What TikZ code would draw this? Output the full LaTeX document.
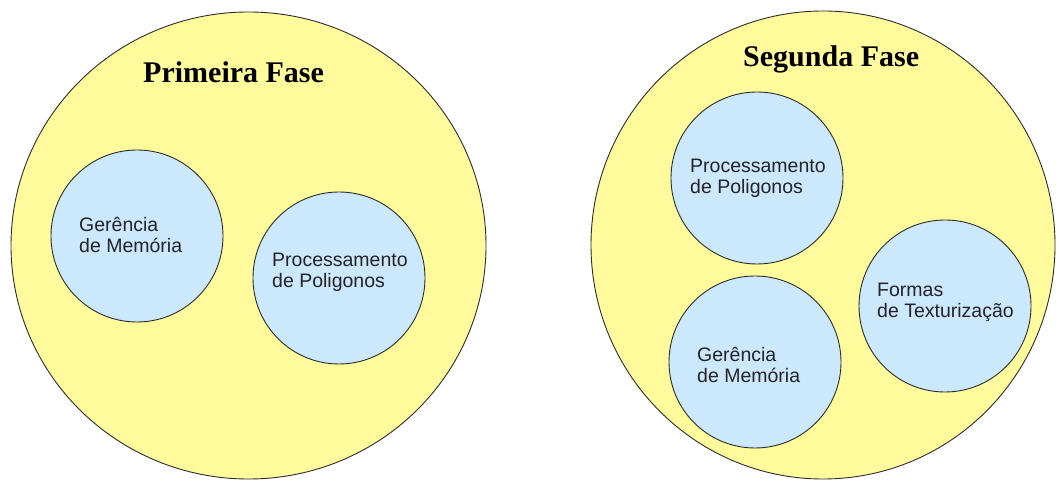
\documentclass[tikz,border=0pt]{standalone}
\usepackage{fontspec}
\setmainfont{Liberation Serif}
\newfontfamily\labelfont{Liberation Sans}
\usetikzlibrary{shapes.geometric}
\definecolor{phaseyellow}{RGB}{255,250,155}
\definecolor{topicblue}{RGB}{204,232,252}
\definecolor{edgegray}{RGB}{45,45,45}
\definecolor{txtgray}{RGB}{35,35,40}
\tikzset{
  phase/.style={ellipse, draw=edgegray, line width=0.9pt, fill=phaseyellow, inner sep=0pt},
  topic/.style={circle, draw=edgegray, line width=0.9pt, fill=topicblue, inner sep=0pt, minimum size=172pt},
  title/.style={anchor=base west, inner sep=0pt, font=\fontsize{30}{34}\selectfont\bfseries, text=black},
  lbl/.style={anchor=base west, inner sep=0pt, font=\labelfont\fontsize{19.5}{20.8}\selectfont, text=txtgray}
}
\begin{document}
\begin{tikzpicture}[x=1pt,y=1pt]
\fill[white] (0,0) rectangle (1059,481);
\useasboundingbox (0,0) rectangle (1059,481);

% First phase
\node[phase, minimum width=475pt, minimum height=467pt] (p1) at (248.5,235.5) {};
\node[title] (t1) at (143,398) {Primeira Fase};
\node[topic] (g1) at (137,245) {};
\node[lbl] (g1t) at (79,249) {\begin{tabular}[t]{@{}l@{}}Gerência\\de Memória\end{tabular}};
\node[topic] (pp1) at (339,203) {};
\node[lbl] (pp1t) at (272,214) {\begin{tabular}[t]{@{}l@{}}Processamento\\de Poligonos\end{tabular}};

% Second phase
\node[phase, minimum width=464pt, minimum height=468pt] (p2) at (823,236) {};
\node[title] (t2) at (743,414) {Segunda Fase};
\node[topic] (pp2) at (757,303) {};
\node[lbl] (pp2t) at (690,308) {\begin{tabular}[t]{@{}l@{}}Processamento\\de Poligonos\end{tabular}};
\node[topic] (g2) at (755,119) {};
\node[lbl] (g2t) at (697,119) {\begin{tabular}[t]{@{}l@{}}Gerência\\de Memória\end{tabular}};
\node[topic] (f2) at (945,175) {};
\node[lbl] (f2t) at (877,184) {\begin{tabular}[t]{@{}l@{}}Formas\\de Texturização\end{tabular}};
\end{tikzpicture}
\end{document}
